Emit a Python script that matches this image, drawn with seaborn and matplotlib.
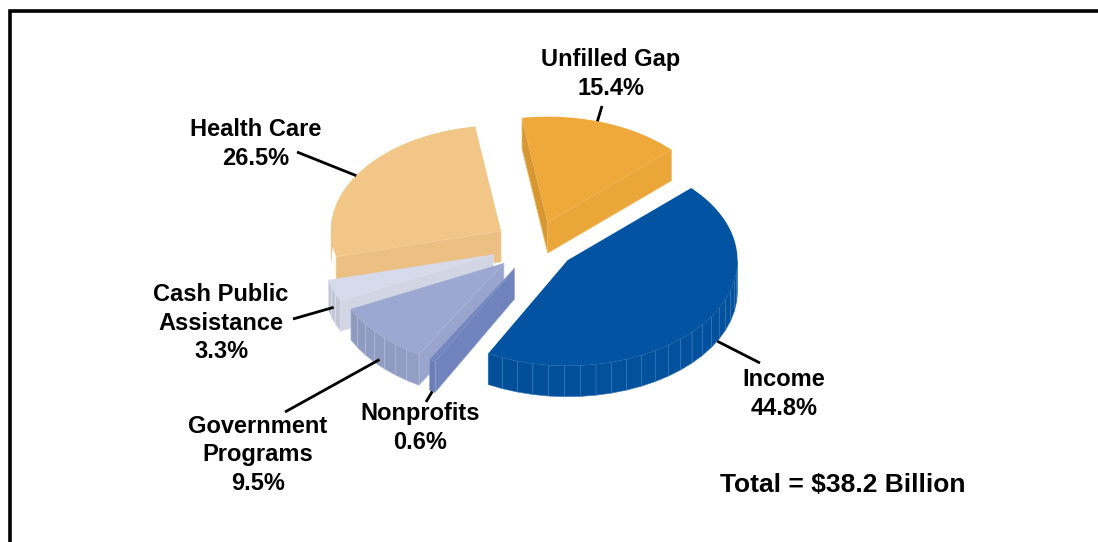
"""
Exploded 3-D style pie: where the money to close the gap comes from.
Drawn on a pixel-sized axes so the pie projection is easy to tune.
"""
import matplotlib.pyplot as plt
import matplotlib.colors as mcolors
import numpy as np
import seaborn as sns
from matplotlib.patches import Polygon

sns.set_theme(style="white")
plt.rcParams["font.family"] = ["Liberation Sans", "DejaVu Sans"]

# slices, clockwise from the top
CATEGORIES = ["Unfilled Gap", "Income", "Nonprofits", "Government\nPrograms",
              "Cash Public\nAssistance", "Health Care"]
SHARES = [15.4, 44.8, 0.6, 9.5, 3.3, 26.5]
TOP_COLORS = ["#EFA93A", "#0253A1", "#7386C0", "#9CA8D1", "#D6DAEA", "#F2C686"]
TOTAL_TEXT = "Total = $38.2 Billion"

# projection / layout (pixels)
W, H = 1098, 542
PIE_X, PIE_Y = 535, 245      # centre of the top face
RAD = 170                    # horizontal radius
TILT = 0.62                  # vertical squash of the ellipse
DEPTH = 31                   # wall height
START = 98.7                 # angle of the first slice edge
EXPLODE = [0.23, 0.24, 0.25, 0.25, 0.26, 0.24]
FACET = 5.5

# label placement (text centre, leader start, leader angle shift, wall fraction)
LABEL_POS = [(611, 74), (784, 394), (420, 428), (258, 455), (221, 323), (256, 144)]
LEADER_END = [(602, 106), (760, 363), (426, 402), (285, 412), (293, 319), (297, 152)]
LEADER_SHIFT = [2, 9, 0, 0, 0, 2]
LEADER_DROP = [0.0, 1.0, 1.0, 0.8, 0.55, 0.0]


def shade(color, normal_deg):
    rgb = np.array(mcolors.to_rgb(color))
    m = 0.885 + 0.095 * (1 + np.cos(np.radians(normal_deg + 40))) / 2
    return tuple(np.clip(rgb * m, 0, 1))


def light(color, amt=0.35):
    rgb = np.array(mcolors.to_rgb(color))
    return tuple(rgb + (1 - rgb) * amt)


def pt(cx, cy, ang, r=1.0, drop=0.0):
    t = np.radians(ang)
    return (cx + RAD * r * np.cos(t), cy - TILT * RAD * r * np.sin(t) + drop)


fig = plt.figure(figsize=(W / 100, H / 100), dpi=100)
ax = fig.add_axes([0, 0, 1, 1])
ax.set_xlim(0, W)
ax.set_ylim(H, 0)
ax.axis("off")

# slice angles (counter-clockwise spans a < b)
spans = []
edge = START
for s in SHARES:
    sweep = 360 * s / sum(SHARES)
    spans.append((edge - sweep, edge))
    edge -= sweep

wedges = []
for i, (a, b) in enumerate(spans):
    mid = (a + b) / 2
    cx = PIE_X + EXPLODE[i] * RAD * np.cos(np.radians(mid))
    cy = PIE_Y - EXPLODE[i] * TILT * RAD * np.sin(np.radians(mid))
    wedges.append((i, a, b, mid, cx, cy))

# paint back to front
order = sorted(wedges, key=lambda w: w[5] - 0.6 * TILT * RAD * np.sin(np.radians(w[3])))
for i, a, b, mid, cx, cy in order:
    col = TOP_COLORS[i]
    # radial side walls facing the viewer
    for ang, normal in ((a, a - 90), (b, b + 90)):
        if np.sin(np.radians(normal)) < 0:
            o = pt(cx, cy, ang)
            quad = [(cx, cy), o, (o[0], o[1] + DEPTH), (cx, cy + DEPTH)]
            ax.add_patch(Polygon(quad, closed=True, facecolor=shade(col, normal),
                                 edgecolor=light(col, 0.25), lw=0.5, zorder=2))
    # outer wall, front half only, in thin facets
    lo, hi = max(a, -180.0), min(b, 0.0)
    if a < -180:
        lo, hi = a, min(b, -180.0)
    if hi > lo:
        n = max(1, int(np.ceil((hi - lo) / FACET)))
        angs = np.linspace(lo, hi, n + 1)
        for t0, t1 in zip(angs[:-1], angs[1:]):
            p0, p1 = pt(cx, cy, t0), pt(cx, cy, t1)
            quad = [p0, p1, (p1[0], p1[1] + DEPTH), (p0[0], p0[1] + DEPTH)]
            ax.add_patch(Polygon(quad, closed=True,
                                 facecolor=shade(col, (t0 + t1) / 2),
                                 edgecolor=light(col, 0.2), lw=0.4, zorder=2))
    # top face
    arc = [pt(cx, cy, t) for t in np.linspace(a, b, 80)]
    ax.add_patch(Polygon([(cx, cy)] + arc, closed=True, facecolor=col,
                         edgecolor="none", zorder=2))

# labels and leader lines
for i, a, b, mid, cx, cy in wedges:
    name = CATEGORIES[i]
    ax.text(*LABEL_POS[i], f"{name}\n{SHARES[i]:.1f}%", ha="center", va="center",
            fontsize=17, fontweight="bold", color="black", linespacing=1.28, zorder=5)
    anchor = pt(cx, cy, mid + LEADER_SHIFT[i], drop=DEPTH * LEADER_DROP[i])
    ax.plot([LEADER_END[i][0], anchor[0]], [LEADER_END[i][1], anchor[1]],
            color="black", lw=2, solid_capstyle="butt", zorder=4)

ax.text(720, 485, TOTAL_TEXT, ha="left", va="center", fontsize=19,
        fontweight="bold", color="black")

# frame (top and left edges are all that show)
ax.plot([9.5, 9.5, W], [H, 10.5, 10.5], color="black", lw=2.6,
        solid_joinstyle="miter", clip_on=False)

fig.savefig("out.png", dpi=100)
